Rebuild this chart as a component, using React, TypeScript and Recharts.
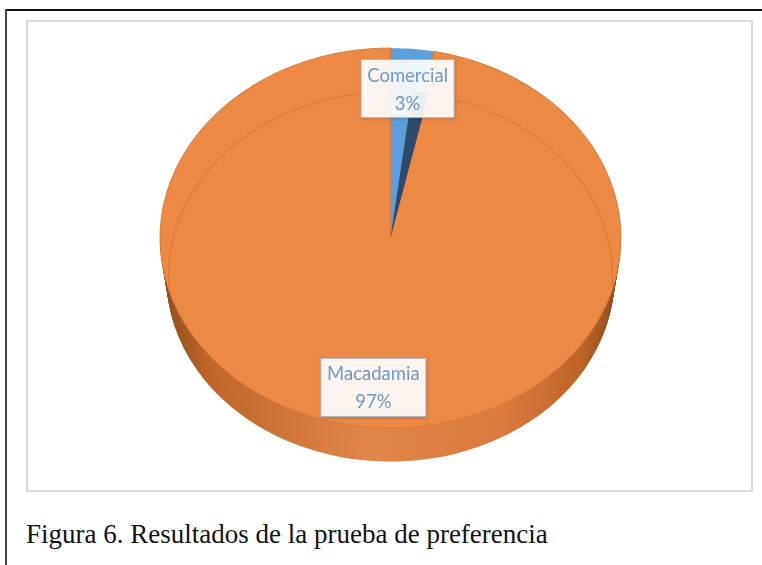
import React from 'react';
import { PieChart, Pie, Cell } from 'recharts';

// preference test results
const categories = ['Comercial', 'Macadamia'];
const shares = [3, 97];
const shareLabels = ['3%', '97%'];

const data = categories.map((name, i) => ({ name, value: shares[i], pct: shareLabels[i] }));

const TOP_COLORS = ['#5e9fdb', '#ec8944'];
const FRAME = { left: 26, top: 20, width: 727, height: 472 };
const RX = 230.5;
const RY = 190;
const K = RY / RX; // vertical squash of the tilted disc
const CX = 390.5 - FRAME.left;
const CY = (238 - FRAME.top) / K;
const DEPTH = 39;
const BOTTOM_SHRINK = 0.972; // far face looks a bit smaller
const CHART_H = Math.round(FRAME.height / K);
const sideOffsets: number[] = [];
for (let d = DEPTH; d > 0; d -= 1.5) sideOffsets.push(d);

const LABEL_SIZE = 18.5;
let ctx: CanvasRenderingContext2D | null = null;
function textWidth(s: string) {
  if (!ctx) ctx = document.createElement('canvas').getContext('2d');
  if (!ctx) return s.length * 10;
  ctx.font = `${LABEL_SIZE}px Lato`;
  return ctx.measureText(s).width;
}

const renderLabel = (props: any) => {
  const { cx, cy, midAngle, outerRadius, index } = props;
  const entry = data[index] ?? props.payload;
  const rad = Math.PI / 180;
  const r = outerRadius * 0.79;
  const x = cx + r * Math.cos(-midAngle * rad);
  const y = cy + r * Math.sin(-midAngle * rad);
  const w = Math.round(textWidth(entry.name)) + 12;
  return (
    <g transform={`translate(${x},${y}) scale(1,${1 / K})`}>
      <rect x={-w / 2} y={-29} width={w} height={58} fill="rgba(255,255,255,0.9)"
        stroke="rgba(150,180,212,0.7)" strokeWidth={1} filter="url(#lblShadow)" />
      <text x={0} y={-14} textAnchor="middle" dominantBaseline="central"
        fontFamily="Lato" fontSize={LABEL_SIZE} fill="#6d98c9">{entry.name}</text>
      <text x={0} y={14} textAnchor="middle" dominantBaseline="central"
        fontFamily="Lato" fontSize={LABEL_SIZE} fill="#6d98c9">{entry.pct}</text>
    </g>
  );
};

export default function App() {
  return (
    <div style={{ position: 'absolute', left: 0, top: 0, width: 762, height: 565, background: '#fff', overflow: 'hidden' }}>
      <div style={{ position: 'absolute', left: 5, top: 9, width: 757, height: 2, background: '#111' }} />
      <div style={{ position: 'absolute', left: 5, top: 9, width: 2, height: 556, background: '#444' }} />
      <div style={{ position: 'absolute', left: FRAME.left, top: FRAME.top, width: FRAME.width, height: FRAME.height,
        border: '2px solid #d9d9d9', boxSizing: 'border-box' }} />
      <div style={{ position: 'absolute', left: FRAME.left, top: FRAME.top, width: FRAME.width, height: CHART_H,
        transform: `scaleY(${K})`, transformOrigin: 'top left' }}>
        <PieChart width={FRAME.width} height={CHART_H} margin={{ top: 0, right: 0, bottom: 0, left: 0 }}>
          <defs>
            <linearGradient id="sideGrad" x1="0" y1="0" x2="1" y2="0">
              <stop offset="0%" stopColor="#8f4c1f" />
              <stop offset="10%" stopColor="#c06629" />
              <stop offset="45%" stopColor="#e2854a" />
              <stop offset="75%" stopColor="#da7b3d" />
              <stop offset="92%" stopColor="#bd6428" />
              <stop offset="100%" stopColor="#8f4c1f" />
            </linearGradient>
            <filter id="lblShadow" x="-20%" y="-20%" width="140%" height="140%">
              <feDropShadow dx="1" dy="1.5" stdDeviation="1.5" floodColor="#000" floodOpacity="0.18" />
            </filter>
          </defs>
          {sideOffsets.map((off) => (
            <Pie key={off} data={data} dataKey="value" nameKey="name" cx={CX} cy={CY + off / K}
              outerRadius={RX * (1 - (1 - BOTTOM_SHRINK) * (off / DEPTH))}
              startAngle={90} endAngle={-270} stroke="none" isAnimationActive={false}>
              {data.map((d, i) => <Cell key={i} fill="url(#sideGrad)" />)}
            </Pie>
          ))}
          <Pie data={data} dataKey="value" nameKey="name" cx={CX} cy={CY} outerRadius={RX}
            startAngle={90} endAngle={-270} stroke="#d47838" strokeWidth={1} isAnimationActive={false}>
            {data.map((d, i) => <Cell key={i} fill={TOP_COLORS[i]} stroke={i === 0 ? 'none' : '#d47838'} />)}
          </Pie>
          <Pie data={data} dataKey="value" nameKey="name" cx={CX} cy={CY + 37 / K}
            innerRadius={221.3} outerRadius={222.6} startAngle={184} endAngle={-4}
            stroke="none" isAnimationActive={false}>
            {data.map((d, i) => <Cell key={i} fill="rgba(190,95,35,0.35)" />)}
          </Pie>
          <Pie data={data} dataKey="value" nameKey="name" cx={CX} cy={CY} outerRadius={RX * 0.78}
            startAngle={83} endAngle={83 - 5.3 / 0.03} stroke="none" isAnimationActive={false}>
            {data.map((d, i) => <Cell key={i} fill={i === 0 ? '#2d4a6c' : 'none'} />)}
          </Pie>
          <Pie data={data} dataKey="value" nameKey="name" cx={CX} cy={CY} outerRadius={RX}
            startAngle={90} endAngle={-270} fill="none" stroke="none" labelLine={false}
            label={renderLabel} isAnimationActive={false}>
            {data.map((d, i) => <Cell key={i} fill="none" stroke="none" />)}
          </Pie>
        </PieChart>
      </div>
      <div style={{ position: 'absolute', left: 26, top: 519, fontFamily: '"Liberation Serif", "Times New Roman", serif',
        fontSize: 27, color: '#111', whiteSpace: 'nowrap', lineHeight: '30px' }}>
        Figura 6. Resultados de la prueba de preferencia
      </div>
    </div>
  );
}
